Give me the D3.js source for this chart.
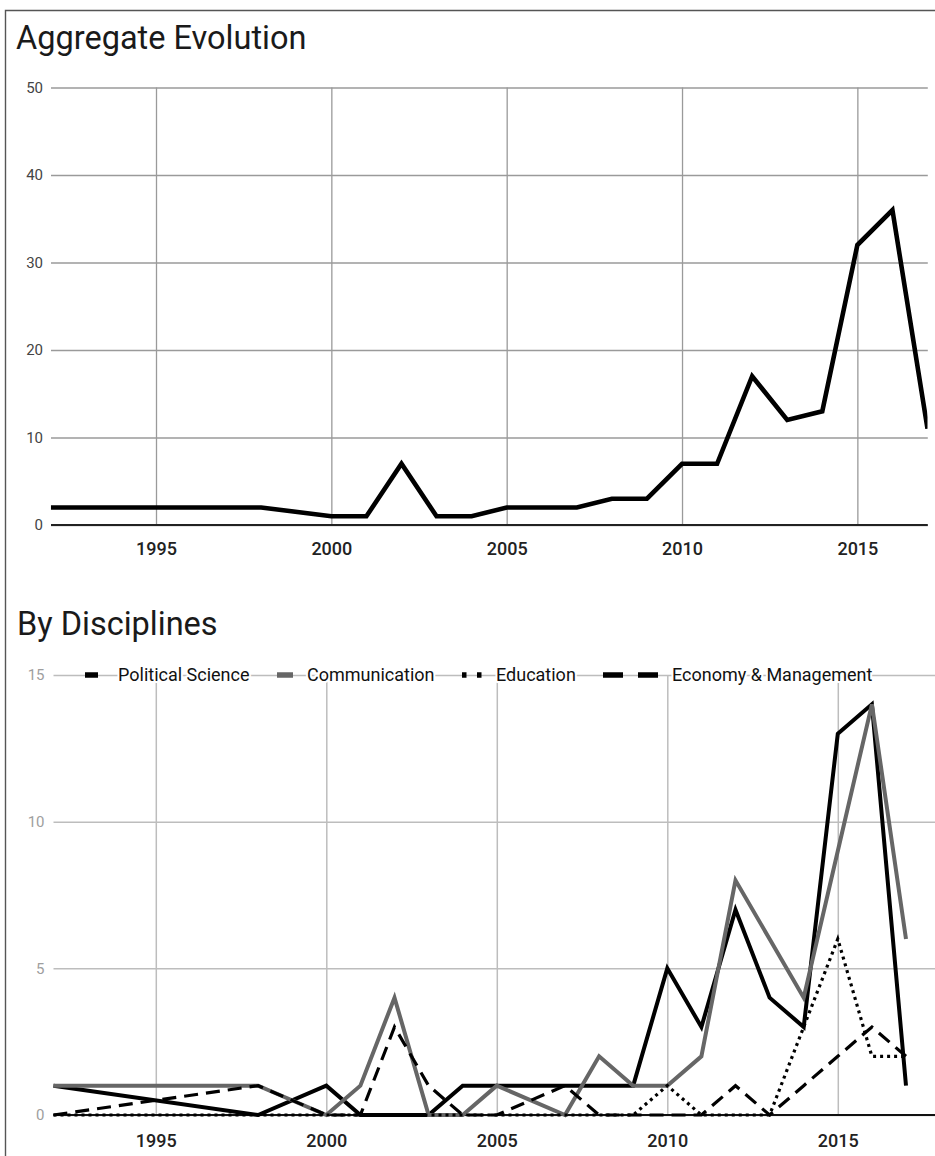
<!DOCTYPE html>
<html>
<head>
<meta charset="utf-8">
<script src="https://cdn.jsdelivr.net/npm/d3@7"></script>
<style>
  html, body { margin: 0; padding: 0; background: #fff; }
  svg { display: block; font-family: Roboto, "Noto Sans", sans-serif; }
</style>
</head>
<body>
<svg id="chart" width="935" height="1156"></svg>
<script>
// ---------------- DATA ----------------
const years = [1992, 1998, 2000, 2001, 2002, 2003, 2004, 2005, 2007, 2008, 2009, 2010, 2011, 2012, 2013, 2014, 2015, 2016, 2017];
const aggregate = [2, 2, 1, 1, 7, 1, 1, 2, 2, 3, 3, 7, 7, 17, 12, 13, 32, 36, 11];
const politicalScience = [1, 0, 1, 0, 0, 0, 1, 1, 1, 1, 1, 5, 3, 7, 4, 3, 13, 14, 1];
const communication   = [1, 1, 0, 1, 4, 0, 0, 1, 0, 2, 1, 1, 2, 8, 6, 4, 9, 14, 6];
const education       = [0, 0, 0, 0, 0, 0, 0, 0, 0, 0, 0, 1, 0, 0, 0, 3, 6, 2, 2];
const economyMgmt     = [0, 1, 0, 0, 3, 1, 0, 0, 1, 0, 0, 0, 0, 1, 0, 1, 2, 3, 2];
const seriesNames = ["Political Science", "Communication", "Education", "Economy & Management"];
const xTickValues = [1995, 2000, 2005, 2010, 2015];
const yTicksTop = [0, 10, 20, 30, 40, 50];
const yTicksBottom = [0, 5, 10, 15];
const titles = ["Aggregate Evolution", "By Disciplines"];

// ---------------- DRAW ----------------
(function () {
const svg = d3.select("#chart");
svg.append("rect").attr("width", 935).attr("height", 1156).attr("fill", "#fff");

// frame
svg.append("path")
  .attr("d", "M5.5,1156 L5.5,10.5 L935,10.5")
  .attr("fill", "none").attr("stroke", "#555").attr("stroke-width", 1.4);

// ===== Top chart =====
const xTop = d3.scaleLinear().domain([1992, 2017]).range([50.8, 927.5]);
const yTop = d3.scaleLinear().domain([0, 50]).range([525, 87.5]);
const gTop = svg.append("g");

gTop.append("text").text(titles[0])
  .attr("x", 16).attr("y", 49)
  .attr("font-size", 32.5).attr("fill", "#1a1a1a");

const yAxisTop = gTop.append("g").attr("transform", "translate(51,0)")
  .call(d3.axisLeft(yTop).tickValues(yTicksTop).tickSize(-(927.8 - 51)).tickPadding(8).tickFormat(d3.format("d")));
yAxisTop.select(".domain").remove();
yAxisTop.selectAll(".tick line").attr("stroke", "#9a9a9a").attr("stroke-width", 1.3);
yAxisTop.selectAll(".tick text").attr("font-size", 15).attr("fill", "#444").attr("font-family", "Roboto");

const xAxisTop = gTop.append("g").attr("transform", "translate(0,525)")
  .call(d3.axisBottom(xTop).tickValues(xTickValues).tickSize(-(525 - 87.5)).tickFormat(d3.format("d")));
xAxisTop.select(".domain").remove();
xAxisTop.selectAll(".tick line").attr("stroke", "#9a9a9a").attr("stroke-width", 1.3);
xAxisTop.selectAll(".tick text").attr("y", 30).attr("dy", 0)
  .attr("font-size", 18).attr("font-weight", 500).attr("fill", "#222").attr("font-family", "Roboto");

gTop.append("line").attr("x1", 51).attr("x2", 927.8).attr("y1", yTop(0)).attr("y2", yTop(0))
  .attr("stroke", "#222").attr("stroke-width", 2);

gTop.append("clipPath").attr("id", "clipTop").append("rect")
  .attr("x", xTop(1992)).attr("y", 0).attr("width", xTop(2017) - xTop(1992)).attr("height", 600);

const lineTop = d3.line().x((d, i) => xTop(years[i])).y(d => yTop(d));
gTop.append("path").datum(aggregate)
  .attr("d", lineTop)
  .attr("clip-path", "url(#clipTop)")
  .attr("fill", "none").attr("stroke", "#000").attr("stroke-width", 4.6)
  .attr("stroke-linejoin", "miter");

// ===== Bottom chart =====
const xBot = d3.scaleLinear().domain([1992, 2017]).range([53.5, 906]);
const yBot = d3.scaleLinear().domain([0, 15]).range([1115, 675]);
const gBot = svg.append("g");

gBot.append("text").text(titles[1])
  .attr("x", 17).attr("y", 635)
  .attr("font-size", 32.5).attr("fill", "#1a1a1a");

const yAxisBot = gBot.append("g").attr("transform", "translate(53.5,0)")
  .call(d3.axisLeft(yBot).tickValues(yTicksBottom).tickSize(-(935 - 53.5)).tickPadding(9).tickFormat(d3.format("d")));
yAxisBot.select(".domain").remove();
yAxisBot.selectAll(".tick line").attr("stroke", "#bdbdbd").attr("stroke-width", 1.5);
yAxisBot.selectAll(".tick text").attr("font-size", 15).attr("fill", "#9e9e9e").attr("font-family", "Roboto");

const xAxisBot = gBot.append("g").attr("transform", "translate(0,1115)")
  .call(d3.axisBottom(xBot).tickValues(xTickValues).tickSize(-(1115 - 675)).tickFormat(d3.format("d")));
xAxisBot.select(".domain").remove();
xAxisBot.selectAll(".tick line").attr("stroke", "#bdbdbd").attr("stroke-width", 1.5);
xAxisBot.selectAll(".tick text").attr("y", 32).attr("dy", 0)
  .attr("font-size", 18).attr("font-weight", 500).attr("fill", "#222").attr("font-family", "Roboto");

gBot.append("line").attr("x1", 53.5).attr("x2", 935).attr("y1", yBot(0)).attr("y2", yBot(0))
  .attr("stroke", "#111").attr("stroke-width", 2);

const styles = [
  { color: "#000", width: 4, dash: null },
  { color: "#666", width: 4, dash: null },
  { color: "#000", width: 3.2, dash: "3,4" },
  { color: "#000", width: 3.2, dash: "14,8" }
];
const seriesData = [politicalScience, communication, education, economyMgmt];
const lineBot = d3.line().x((d, i) => xBot(years[i])).y(d => yBot(d));

seriesData.forEach((vals, k) => {
  gBot.append("path").datum(vals)
    .attr("d", lineBot)
    .attr("fill", "none")
    .attr("stroke", styles[k].color)
    .attr("stroke-width", styles[k].width)
    .attr("stroke-dasharray", styles[k].dash)
    .attr("stroke-linejoin", "miter");
});

const legY = yBot(15);
const legendLayout = [
  { mx1: 85,  mx2: 98,  mdash: null,   tx: 118 },
  { mx1: 277, mx2: 293, mdash: null,   tx: 307 },
  { mx1: 462, mx2: 482, mdash: "4.5,10.5", tx: 496 },
  { mx1: 603, mx2: 660, mdash: "20,15", tx: 672 }
];
const leg = gBot.append("g");
seriesNames.forEach((name, k) => {
  const L = legendLayout[k];
  leg.append("line")
    .attr("x1", L.mx1).attr("x2", L.mx2).attr("y1", legY).attr("y2", legY)
    .attr("stroke", styles[k].color).attr("stroke-width", 5.5)
    .attr("stroke-dasharray", L.mdash);
  leg.append("text").text(name)
    .attr("x", L.tx).attr("y", legY + 6.4)
    .attr("font-size", 18).attr("fill", "#111")
    .attr("stroke", "#fff").attr("stroke-width", 4).attr("paint-order", "stroke")
    .attr("stroke-linejoin", "round");
});
})();
</script>
</body>
</html>
